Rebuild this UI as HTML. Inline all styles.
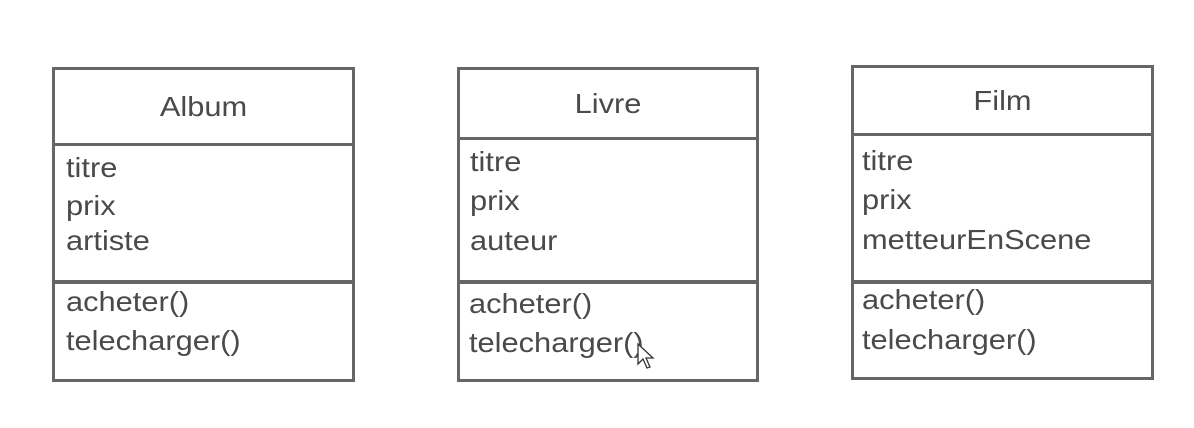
<!DOCTYPE html>
<html><head><style>
body{margin:0;width:1194px;height:428px;background:#fff;position:relative;overflow:hidden;font-family:"Liberation Sans",Arial,sans-serif;color:#4a4a4a}
.b{position:absolute;border:3px solid #666;box-sizing:border-box;background:#fff}
.h{position:absolute;left:0;right:0;height:3px;background:#666}
.t{position:absolute;font-size:28px;line-height:30px;height:30px;white-space:nowrap;transform:scaleX(1.1);transform-origin:left center}
.c{text-align:center;transform-origin:center center}
</style></head><body>
<!-- Album -->
<div class="b" style="left:52px;top:67px;width:303px;height:315px"></div>
<div class="h" style="position:absolute;left:52px;width:303px;top:143px"></div>
<div class="h" style="position:absolute;left:52px;width:303px;top:280px;height:4px"></div>
<div class="t c" style="left:52px;width:303px;top:92px">Album</div>
<div class="t" style="left:66px;top:153px">titre</div>
<div class="t" style="left:66px;top:191px">prix</div>
<div class="t" style="left:66px;top:226px">artiste</div>
<div class="t" style="left:66px;top:287px">acheter()</div>
<div class="t" style="left:66px;top:326px">telecharger()</div>
<!-- Livre -->
<div class="b" style="left:457px;top:67px;width:302px;height:315px"></div>
<div class="h" style="position:absolute;left:457px;width:302px;top:137px"></div>
<div class="h" style="position:absolute;left:457px;width:302px;top:280px;height:4px"></div>
<div class="t c" style="left:457px;width:302px;top:89px">Livre</div>
<div class="t" style="left:470px;top:147px">titre</div>
<div class="t" style="left:470px;top:186px">prix</div>
<div class="t" style="left:470px;top:226px">auteur</div>
<div class="t" style="left:469px;top:289px">acheter()</div>
<div class="t" style="left:469px;top:328px">telecharger()</div>
<svg style="position:absolute;left:636px;top:342px" width="20" height="30"><path d="M2 2 L2 22 L7 17 L11 26 L14 25 L10 16 L17 16 Z" fill="#fff" stroke="#333" stroke-width="1.3"/></svg>
<!-- Film -->
<div class="b" style="left:851px;top:65px;width:303px;height:315px"></div>
<div class="h" style="position:absolute;left:851px;width:303px;top:133px"></div>
<div class="h" style="position:absolute;left:851px;width:303px;top:280px;height:4px"></div>
<div class="t c" style="left:851px;width:303px;top:86px">Film</div>
<div class="t" style="left:862px;top:146px">titre</div>
<div class="t" style="left:862px;top:185px">prix</div>
<div class="t" style="left:862px;top:225px">metteurEnScene</div>
<div class="t" style="left:862px;top:285px">acheter()</div>
<div class="t" style="left:862px;top:325px">telecharger()</div>
</body></html>
